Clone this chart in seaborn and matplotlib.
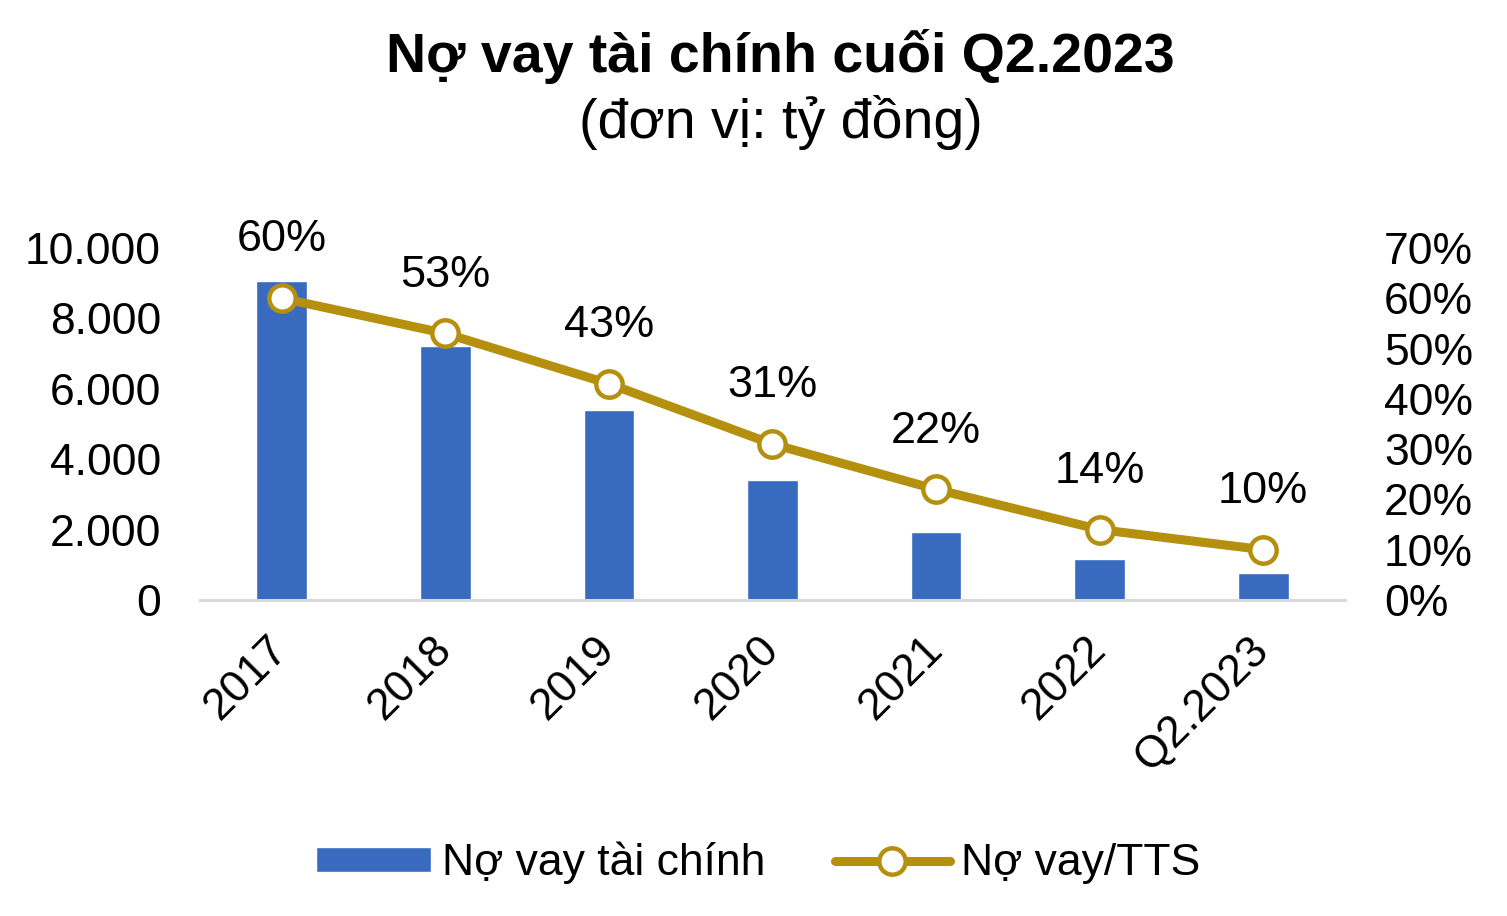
import pandas as pd
import matplotlib.pyplot as plt
import seaborn as sns

# Data
years = ['2017', '2018', '2019', '2020', '2021', '2022', 'Q2.2023']
debt = [9060, 7220, 5400, 3410, 1930, 1170, 770]      # Nợ vay tài chính (tỷ đồng)
ratio = [60, 53, 43, 31, 22, 14, 10]                  # Nợ vay/TTS (%)
left_ticks = [0, 2000, 4000, 6000, 8000, 10000]
right_ticks = [0, 10, 20, 30, 40, 50, 60, 70]

df = pd.DataFrame({'year': years, 'debt': debt, 'ratio': ratio})

sns.set_theme(style="white")
plt.rcParams['font.family'] = ['Liberation Sans', 'DejaVu Sans']
plt.rcParams['text.color'] = 'black'
plt.rcParams['xtick.color'] = 'black'
plt.rcParams['ytick.color'] = 'black'

blue = '#386BC0'
gold = '#B58F0E'

fig = plt.figure(figsize=(15.07, 9.16), dpi=100)
ax = fig.add_axes([0.1327, 0.345, 0.7598, 0.3843])

# bars - left axis
sns.barplot(data=df, x='year', y='debt', color=blue, saturation=1,
            width=0.31, ax=ax, label='Nợ vay tài chính')
ax.set_ylim(0, 10000)
ax.set_xlim(-0.5, len(years) - 0.5)
ax.set_yticks(left_ticks)
ax.set_yticklabels([f"{v:,.0f}".replace(',', '.') for v in left_ticks])
ax.tick_params(axis='y', labelsize=32, pad=28, length=0)
ax.tick_params(axis='x', labelsize=32, pad=31, length=0)
plt.setp(ax.get_xticklabels(), rotation=45, ha='right', va='center',
         rotation_mode='anchor')
ax.set_xlabel('')
ax.set_ylabel('')
for s in ['top', 'left', 'right']:
    ax.spines[s].set_visible(False)
ax.spines['bottom'].set_color('#d9d9d9')
ax.spines['bottom'].set_linewidth(2.2)

# ratio line - right axis
ax2 = ax.twinx()
sns.pointplot(data=df, x='year', y='ratio', color=gold, errorbar=None,
              markers='o', markersize=19, linewidth=6.5, ax=ax2,
              label='Nợ vay/TTS')
for ln in ax2.lines:
    ln.set_markerfacecolor('white')
    ln.set_markeredgecolor(gold)
    ln.set_markeredgewidth(3.2)
    ln.set_zorder(5)
ax2.set_ylim(0, 70)
ax2.set_xlim(-0.5, len(years) - 0.5)
ax2.set_yticks(right_ticks)
ax2.set_yticklabels([f"{v}%" for v in right_ticks])
ax2.tick_params(axis='y', labelsize=32, pad=28, length=0)
ax2.set_ylabel('')
for s in ax2.spines.values():
    s.set_visible(False)

for i, r in enumerate(ratio):
    ax2.annotate(f"{r}%", (i, r), xytext=(0, 42), textcoords='offset points',
                 ha='center', va='center', fontsize=32.5, annotation_clip=False)

fig.text(0.518, 0.938, 'Nợ vay tài chính cuối Q2.2023', ha='center', va='center',
         fontsize=40, fontweight='bold')
fig.text(0.518, 0.866, '(đơn vị: tỷ đồng)', ha='center', va='center', fontsize=40)

h1, l1 = ax.get_legend_handles_labels()
h2, l2 = ax2.get_legend_handles_labels()
if ax.get_legend():
    ax.get_legend().remove()
if ax2.get_legend():
    ax2.get_legend().remove()
fig.legend(h1 + h2, l1 + l2, loc='center', bbox_to_anchor=(0.503, 0.058), ncol=2,
           frameon=False, fontsize=32, handlelength=2.6, handleheight=0.5,
           handletextpad=0.25, columnspacing=1.55)

fig.savefig('out.png', dpi=100)
